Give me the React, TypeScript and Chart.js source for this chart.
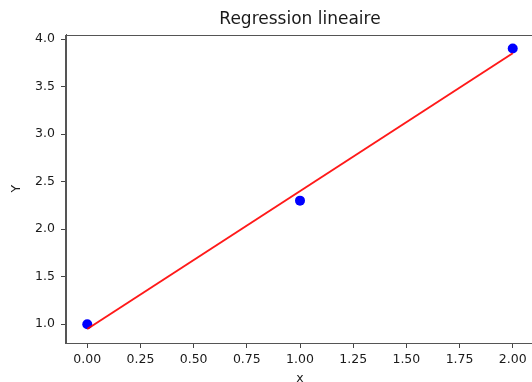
import React, { useEffect, useRef } from "react";
import { Chart, registerables } from "chart.js";

Chart.register(...registerables);

// Observed points
const pointsX = [0, 1, 2];
const pointsY = [1.0, 2.3, 3.9];
// Fitted regression line endpoints
const lineX = [0, 2];
const lineY = [0.95, 3.85];
// Ticks
const xTicks = [0, 0.25, 0.5, 0.75, 1.0, 1.25, 1.5, 1.75, 2.0];
const yTicks = [1.0, 1.5, 2.0, 2.5, 3.0, 3.5, 4.0];

const titleText = "Regression lineaire";
const xLabel = "x";
const yLabel = "Y";

const W = 539;
const H = 392;

const spinePlugin = {
  id: "spines",
  afterDatasetsDraw(chart: any) {
    const { ctx, chartArea } = chart;
    ctx.save();
    ctx.strokeStyle = "#555";
    ctx.lineWidth = 1;
    const l = Math.round(chartArea.left) - 0.5;
    const t = Math.round(chartArea.top) + 0.5;
    const r = Math.round(chartArea.right) - 0.5;
    const b = Math.round(chartArea.bottom) + 0.5;
    ctx.strokeRect(l, t, r - l, b - t);
    ctx.restore();
  },
};

export default function App() {
  const ref = useRef<HTMLCanvasElement | null>(null);
  useEffect(() => {
    if (!ref.current) return;
    const chart = new Chart(ref.current, {
      type: "scatter",
      data: {
        datasets: [
          {
            label: "fit",
            data: lineX.map((x, i) => ({ x, y: lineY[i] })),
            showLine: true,
            borderColor: "rgba(255,0,0,0.9)",
            borderWidth: 2,
            pointRadius: 0,
            order: 0,
          },
          {
            label: "data",
            data: pointsX.map((x, i) => ({ x, y: pointsY[i] })),
            showLine: false,
            backgroundColor: "#0000ff",
            borderWidth: 0,
            pointRadius: 5,
            order: 1,
          },
        ],
      },
      options: {
        animation: false,
        responsive: false,
        layout: { padding: { left: 0, top: 0, bottom: 0, right: 0 } },
        plugins: {
          legend: { display: false },
          tooltip: { enabled: false },
          title: {
            display: true,
            fullSize: false,
            text: titleText,
            color: "#1a1a1a",
            font: { family: "DejaVu Sans", size: 17, weight: "normal" },
            padding: { top: 9.2, bottom: 4.9 },
          },
        },
        scales: {
          x: {
            type: "linear",
            min: -0.1,
            max: 2.1,
            afterFit: (s: any) => {
              s.height = 49;
              s.paddingLeft = 0;
              s.paddingRight = 0;
            },
            afterBuildTicks: (s: any) => {
              s.ticks = xTicks.map((v) => ({ value: v }));
            },
            ticks: {
              color: "#1a1a1a",
              font: { family: "DejaVu Sans", size: 12.5 },
              padding: 4,
              maxRotation: 0,
              autoSkip: false,
              callback: (v: any) => Number(v).toFixed(2),
            },
            grid: {
              drawOnChartArea: false,
              drawTicks: true,
              tickLength: 5,
              color: "#444",
            },
            border: { display: true, color: "#555" },
            title: {
              display: true,
              text: xLabel,
              color: "#1a1a1a",
              font: { family: "DejaVu Sans", size: 12.5 },
              padding: { top: 0, bottom: 5.5 },
            },
          },
          y: {
            type: "linear",
            min: 0.8025,
            max: 4.0475,
            afterFit: (s: any) => {
              s.width = 66;
              s.paddingTop = 0;
              s.paddingBottom = 0;
            },
            afterBuildTicks: (s: any) => {
              s.ticks = yTicks.map((v) => ({ value: v }));
            },
            ticks: {
              color: "#1a1a1a",
              font: { family: "DejaVu Sans", size: 12.5 },
              padding: 6,
              autoSkip: false,
              callback: (v: any) => Number(v).toFixed(1),
            },
            grid: {
              drawOnChartArea: false,
              drawTicks: true,
              tickLength: 5,
              color: "#444",
            },
            border: { display: true, color: "#555" },
            title: {
              display: true,
              text: yLabel,
              color: "#1a1a1a",
              font: { family: "DejaVu Sans", size: 12.5 },
              padding: { top: 9, bottom: 0 },
            },
          },
        },
      },
      plugins: [spinePlugin],
    } as any);
    return () => chart.destroy();
  }, []);

  return (
    <div
      style={{
        position: "fixed",
        left: 0,
        top: 0,
        width: W,
        height: H,
        background: "#fff",
      }}
    >
      <canvas ref={ref} width={W} height={H} style={{ width: W, height: H, display: "block" }} />
    </div>
  );
}
